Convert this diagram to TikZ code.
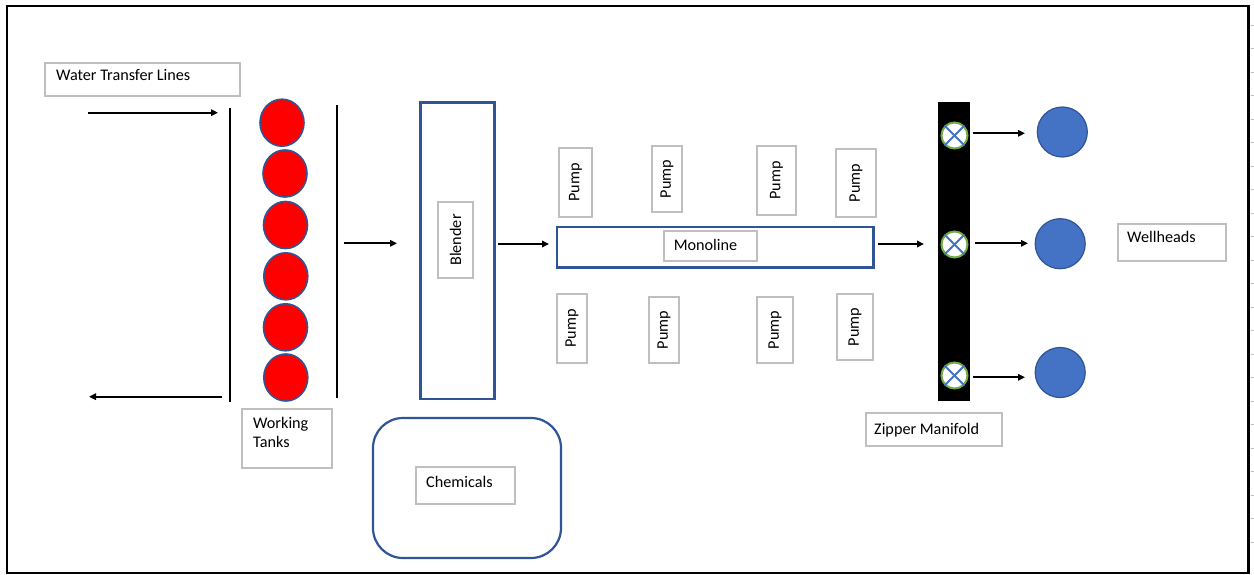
\documentclass[tikz,border=0pt]{standalone}
\usepackage{fontspec}
\setmainfont{Carlito}
\usetikzlibrary{arrows.meta,shapes.geometric}
\definecolor{boxgray}{HTML}{BFBFBF}
\definecolor{dblue}{HTML}{2F5597}
\definecolor{mblue}{HTML}{4472C4}
\definecolor{vgreen}{HTML}{70AD47}
\tikzset{
  lbl/.style={draw=boxgray, line width=2pt, fill=white, inner sep=0pt},
  bluebox/.style={draw=dblue, line width=2.2pt, fill=white, inner sep=0pt},
  tank/.style={ellipse, fill=red, draw=dblue, line width=1.6pt, minimum width=44pt, minimum height=47pt, inner sep=0pt},
  valve/.style={circle, draw=vgreen, line width=2pt, fill=white, minimum size=26pt, inner sep=0pt},
  well/.style={circle, fill=mblue, draw=dblue, line width=1.2pt, minimum size=50pt, inner sep=0pt},
  flow/.style={line width=2pt, -{Triangle[length=7pt,width=6.5pt]}},
  wall/.style={line width=2.2pt},
  txt/.style={inner sep=0pt, anchor=base west},
  vtxt/.style={inner sep=0pt, rotate=90},
}
\begin{document}
\begin{tikzpicture}[x=1pt,y=-1pt, font=\fontsize{16.2}{19}\selectfont]
\useasboundingbox (0,0) rectangle (1254,575);
\fill[white] (0,0) rectangle (1254,575);
\draw[line width=2.2pt] (7,6) rectangle (1248.5,573);
\foreach \yy in {25,48.5,...,560} \draw[gray!50, line width=0.8pt] (1250.5,\yy) -- (1254,\yy);

% Water transfer lines
\node[lbl, minimum width=195pt, minimum height=32.7pt] (wtlbox) at (142.5,79.7) {};
\node[txt] (wtl) at (56,81) {Water Transfer Lines};
\coordinate (inS) at (88,112.7);
\coordinate (inE) at (218,112.7);
\coordinate (outS) at (222,396.7);
\coordinate (outE) at (89,396.7);
\draw[flow] (inS) -- (inE);
\draw[flow] (outS) -- (outE);

% tank walls
\coordinate (lwT) at (230,107.7);
\coordinate (lwB) at (230,401.7);
\coordinate (rwT) at (336.7,105);
\coordinate (rwB) at (336.7,398);
\draw[wall] (lwT) -- (lwB);
\draw[wall] (rwT) -- (rwB);

% tanks
\node[tank] (t1) at (282,122.7) {};
\node[tank] (t2) at (285,173.5) {};
\node[tank] (t3) at (285.5,225) {};
\node[tank] (t4) at (285.8,276.3) {};
\node[tank] (t5) at (285.5,327.3) {};
\node[tank] (t6) at (285.8,377.5) {};

\node[lbl, minimum width=90.6pt, minimum height=58.7pt] (wtbox) at (287,438.3) {};
\node[txt] (wt1) at (253,428) {Working};
\node[txt] (wt2) at (253,447) {Tanks};

% tanks -> blender
\coordinate (tbS) at (344,243.3);
\coordinate (tbE) at (397,243.3);
\draw[flow] (tbS) -- (tbE);

% blender
\node[bluebox, minimum width=74pt, minimum height=296.5pt] (blender) at (457.5,250.75) {};
\node[lbl, minimum width=34.4pt, minimum height=75.4pt] (blbox) at (455.5,240) {};
\node[vtxt] (bltxt) at (455.5,240) {Blender};

% chemicals
\node[bluebox, rounded corners=30pt, minimum width=188pt, minimum height=140pt] (chem) at (467,488) {};
\node[lbl, minimum width=99pt, minimum height=37pt] (chbox) at (465.5,485.5) {};
\node[txt] (chtxt) at (426,487) {Chemicals};

% blender -> monoline
\coordinate (bmS) at (498,244);
\coordinate (bmE) at (549,244);
\draw[flow] (bmS) -- (bmE);

% monoline
\node[bluebox, minimum width=316.5pt, minimum height=40.5pt] (mono) at (715.25,247.25) {};
\node[lbl, minimum width=93.3pt, minimum height=29.7pt] (monobox) at (710.7,245.8) {};
\node[inner sep=0pt, anchor=base] (monotxt) at (705.5,250.7) {Monoline};

% pumps
\node[lbl, minimum width=33pt, minimum height=69pt] (p1) at (575.5,182.5) {};
\node[vtxt] at (p1.center) {Pump};
\node[lbl, minimum width=30pt, minimum height=66pt] (p2) at (667,179) {};
\node[vtxt] at (p2.center) {Pump};
\node[lbl, minimum width=39pt, minimum height=69pt] (p3) at (776.5,180.5) {};
\node[vtxt] at (p3.center) {Pump};
\node[lbl, minimum width=40pt, minimum height=68pt] (p4) at (856,183) {};
\node[vtxt] at (p4.center) {Pump};
\node[lbl, minimum width=30pt, minimum height=69pt] (p5) at (572,328.5) {};
\node[vtxt] at (p5.center) {Pump};
\node[lbl, minimum width=30pt, minimum height=66pt] (p6) at (664,330) {};
\node[vtxt] at (p6.center) {Pump};
\node[lbl, minimum width=36pt, minimum height=66pt] (p7) at (775,330) {};
\node[vtxt] at (p7.center) {Pump};
\node[lbl, minimum width=36pt, minimum height=66pt] (p8) at (855,327) {};
\node[vtxt] at (p8.center) {Pump};

% monoline -> manifold
\coordinate (mmS) at (878,244);
\coordinate (mmE) at (924,244);
\draw[flow] (mmS) -- (mmE);

% zipper manifold
\node[fill=black, draw=black, inner sep=0pt, minimum width=31pt, minimum height=298pt] (zm) at (953.5,251) {};
\node[valve] (v1) at (954.5,135.5) {};
\node[valve] (v2) at (954.5,244.5) {};
\node[valve] (v3) at (954.5,375.5) {};
\foreach \v in {v1,v2,v3}{
  \draw[mblue, line width=2pt] (\v.north east) -- (\v.south west);
  \draw[mblue, line width=2pt] (\v.north west) -- (\v.south east);
}
\node[lbl, minimum width=135.7pt, minimum height=32.4pt] (zmbox) at (933.85,429.5) {};
\node[txt] (zmtxt) at (874,434) {Zipper Manifold};

% wellheads
\node[well] (w1) at (1062.3,132) {};
\node[well] (w2) at (1060.2,243.7) {};
\node[well] (w3) at (1060.2,372.5) {};
\coordinate (a1S) at (972.7,133.3);
\coordinate (a1E) at (1025,133.3);
\coordinate (a2S) at (975,243.3);
\coordinate (a2E) at (1028,243.3);
\coordinate (a3S) at (973,377.3);
\coordinate (a3E) at (1025,377.3);
\draw[flow] (a1S) -- (a1E);
\draw[flow] (a2S) -- (a2E);
\draw[flow] (a3S) -- (a3E);
\node[lbl, minimum width=108pt, minimum height=37pt] (whbox) at (1172,242.5) {};
\node[txt] (whtxt) at (1127,242) {Wellheads};
\end{tikzpicture}
\end{document}
